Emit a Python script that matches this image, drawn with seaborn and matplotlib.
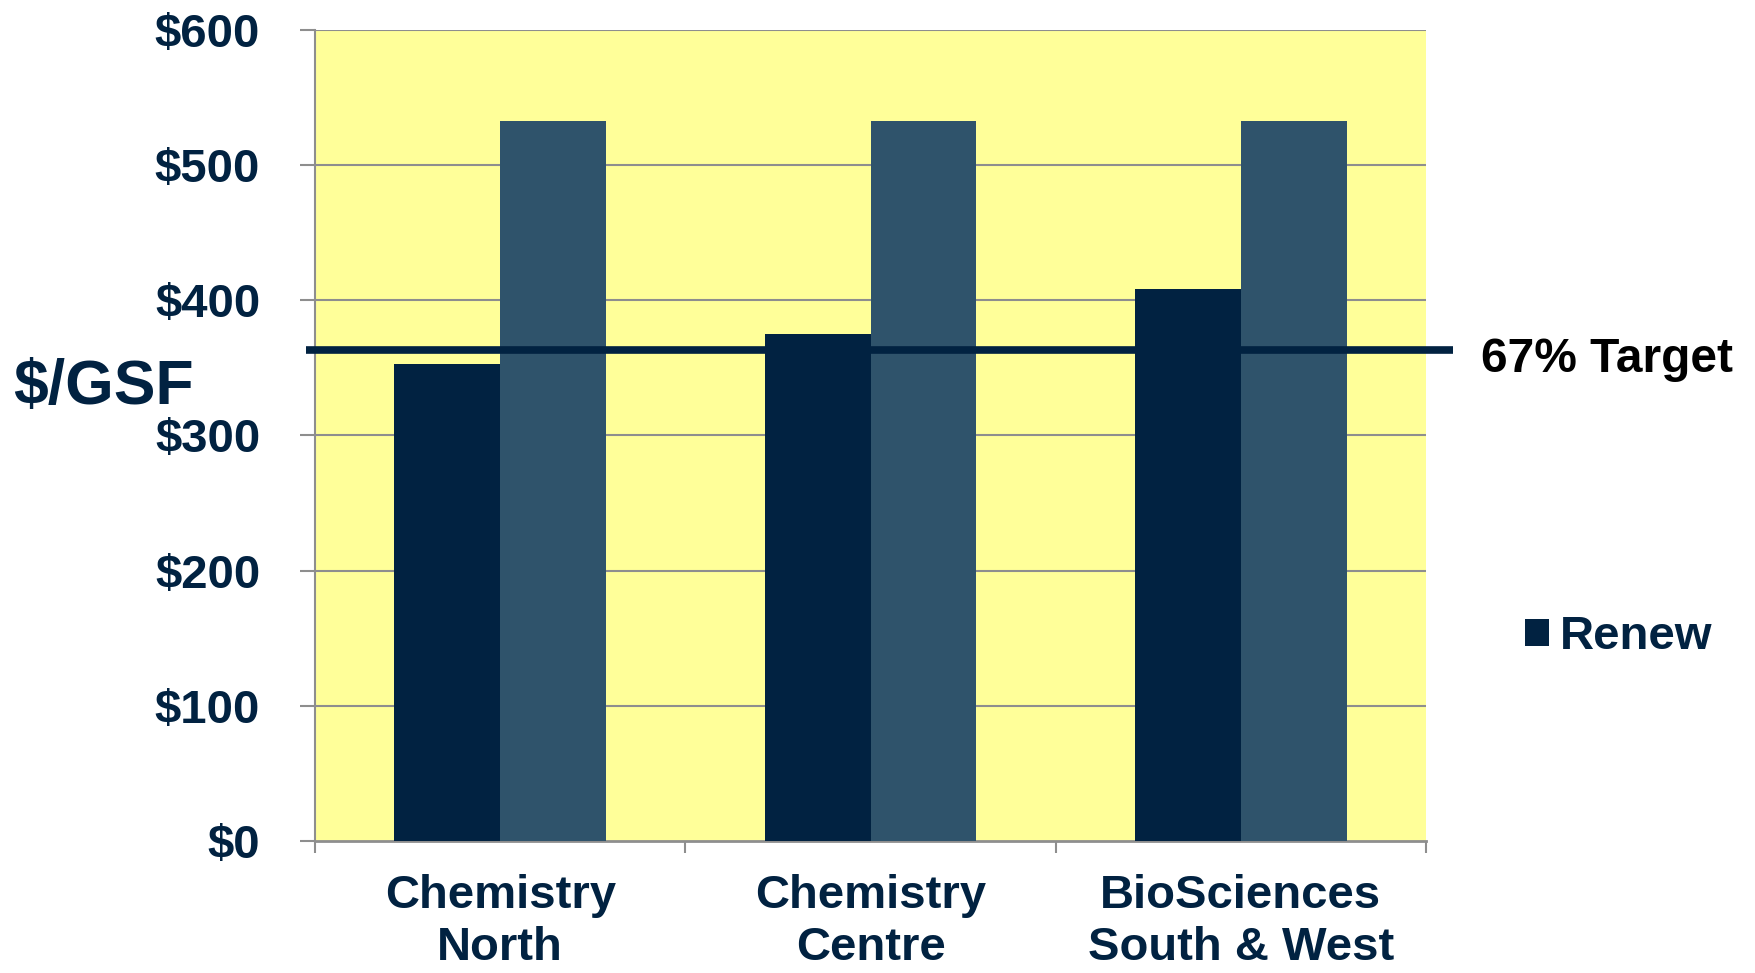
import matplotlib
matplotlib.use("Agg")
import matplotlib.pyplot as plt
import matplotlib.transforms as mtransforms
from matplotlib.patches import Patch
import seaborn as sns
import pandas as pd

# ---- data ----
categories = ["Chemistry\nNorth", "Chemistry\nCentre", "BioSciences\nSouth & West"]
series_names = ["Renew", "Replace"]
renew_values = [353, 375, 408]
replace_values = [533, 533, 533]
target_value = 363
target_label = "67% Target"
y_ticks = [0, 100, 200, 300, 400, 500, 600]
y_tick_labels = ["$0", "$100", "$200", "$300", "$400", "$500", "$600"]
y_title = "$/GSF"

navy = "#012241"
slate = "#2F536B"
yellow = "#FFFF99"
grid_gray = "#8E8E8E"

df = pd.DataFrame({
    "building": categories * 2,
    "series": [series_names[0]] * 3 + [series_names[1]] * 3,
    "cost": renew_values + replace_values,
})

sns.set_theme(style="white")
plt.rcParams["font.family"] = ["Liberation Sans", "DejaVu Sans"]
plt.rcParams["font.weight"] = "bold"

fig = plt.figure(figsize=(17.56, 9.73), dpi=100)
ax = fig.add_axes([0.1794, 0.1357, 0.6327, 0.8335])
ax.set_facecolor(yellow)

sns.barplot(data=df, x="building", y="cost", hue="series", order=categories,
            hue_order=series_names, palette=[navy, slate], width=0.571,
            saturation=1, ax=ax, legend=False, linewidth=0, zorder=3)

ax.set_xlim(-0.5, 2.5)
ax.set_ylim(0, 600)

# gridlines
for yv in y_ticks[1:]:
    ax.axhline(yv, color=grid_gray, linewidth=1.5, zorder=1)

ax.set_yticks(y_ticks)
ax.set_yticklabels(y_tick_labels)
ax.tick_params(axis="y", which="major", length=10.5, width=1.5, color=grid_gray,
               pad=29, labelsize=34, labelcolor=navy, left=True)

# x ticks: boundaries as major ticks, labels at centers as minor
ax.set_xticks([-0.5, 0.5, 1.5, 2.5])
ax.set_xticklabels([])
ax.set_xticks([0, 1, 2], minor=True)
ax.set_xticklabels(categories, minor=True, fontsize=34, color=navy,
                   fontweight="bold", linespacing=1.25)
ax.tick_params(axis="x", which="major", length=8.5, width=1.5, color=grid_gray,
               bottom=True, direction="out")
ax.tick_params(axis="x", which="minor", length=0, pad=23.5)

ax.set_xlabel("")
ax.set_ylabel("")
for lab in ax.get_yticklabels():
    lab.set_fontweight("bold")

for s in ["top", "right"]:
    ax.spines[s].set_visible(False)
ax.spines["left"].set_color(grid_gray)
ax.spines["left"].set_linewidth(1.5)
ax.spines["bottom"].set_color(grid_gray)
ax.spines["bottom"].set_linewidth(2.0)
ax.spines["left"].set_zorder(2)

# target line extending slightly beyond axes
trans = mtransforms.blended_transform_factory(ax.transAxes, ax.transData)
ax.plot([-0.008, 1.024], [target_value, target_value], color=navy,
        linewidth=5.5, transform=trans, clip_on=False, zorder=5,
        solid_capstyle="butt")

fig.text(0.8432, 0.6305, target_label, fontsize=34.5, fontweight="bold",
         color="black", ha="left", va="center")

fig.text(0.0076, 0.602, y_title, fontsize=45, fontweight="bold",
         color=navy, ha="left", va="center")

leg = fig.legend(handles=[Patch(facecolor=navy, edgecolor="none", label=series_names[0])],
                 loc="center left", bbox_to_anchor=(0.8686, 0.3455),
                 frameon=False, fontsize=34, handlelength=0.5, handleheight=0.5,
                 handletextpad=0.24, borderpad=0, borderaxespad=0)
for t in leg.get_texts():
    t.set_color(navy)
    t.set_fontweight("bold")

fig.savefig("out.png", dpi=100, facecolor="white")
